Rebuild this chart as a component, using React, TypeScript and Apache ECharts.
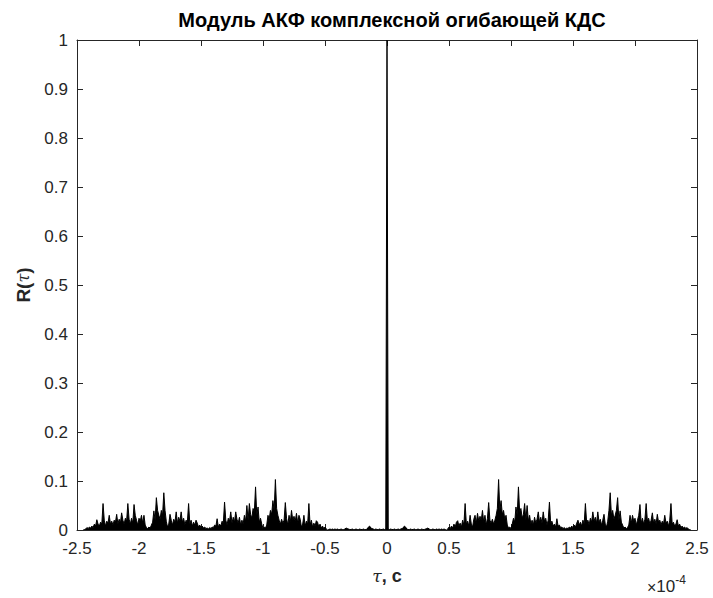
import React, { useEffect, useRef } from "react";
import * as echarts from "echarts";

// Delay axis, units of 1e-4 s
const tauStep = 0.01;
const xTicksMin = -2.5;
const xTicksMax = 2.5;
const xTickInterval = 0.5;
const yTickInterval = 0.1;

// |R(tau)| for tau = 0.00, 0.01, 0.02 ... 2.45 (x1e-4 s); the ACF modulus is symmetric
const rPositive = [
  1.0,
  // 0.01 - 0.47
  0.002, 0.001, 0.002, 0.001, 0.001, 0.002, 0.001, 0.001, 0.002, 0.001,
  0.002, 0.003, 0.004, 0.008, 0.006, 0.002, 0.001, 0.001, 0.002, 0.001,
  0.001, 0.002, 0.001, 0.001, 0.002, 0.001, 0.001, 0.002, 0.001, 0.001,
  0.002, 0.003, 0.004, 0.002, 0.001, 0.001, 0.002, 0.001, 0.001, 0.002,
  0.001, 0.002, 0.001, 0.002, 0.001, 0.002, 0.001,
  // 0.48 - 0.99
  0.0, 0.002, 0.006, 0.003, 0.008, 0.004, 0.012, 0.006, 0.016, 0.019,
  0.008, 0.014, 0.006, 0.02, 0.01, 0.054, 0.012, 0.018, 0.008, 0.03,
  0.012, 0.006, 0.022, 0.03, 0.014, 0.034, 0.018, 0.028, 0.02, 0.04,
  0.016, 0.03, 0.01, 0.024, 0.056, 0.02, 0.014, 0.022, 0.012, 0.02,
  0.03, 0.044, 0.103, 0.04, 0.06, 0.032, 0.04, 0.022, 0.03, 0.01,
  0.004, 0.006,
  // 1.00 - 1.49
  0.003, 0.012, 0.024, 0.016, 0.047, 0.03, 0.088, 0.036, 0.044, 0.024,
  0.032, 0.054, 0.02, 0.05, 0.018, 0.03, 0.012, 0.02, 0.01, 0.026,
  0.014, 0.022, 0.037, 0.016, 0.026, 0.014, 0.037, 0.018, 0.024, 0.01,
  0.02, 0.057, 0.014, 0.018, 0.008, 0.012, 0.006, 0.023, 0.008, 0.01,
  0.005, 0.006, 0.003, 0.005, 0.002, 0.004, 0.003, 0.006, 0.004, 0.008,
  // 1.50 - 1.99
  0.005, 0.01, 0.006, 0.014, 0.02, 0.01, 0.016, 0.008, 0.02, 0.012,
  0.054, 0.016, 0.02, 0.01, 0.024, 0.016, 0.037, 0.018, 0.026, 0.014,
  0.037, 0.016, 0.022, 0.01, 0.02, 0.032, 0.012, 0.006, 0.018, 0.04,
  0.076, 0.03, 0.04, 0.022, 0.03, 0.04, 0.066, 0.02, 0.039, 0.016,
  0.01, 0.004, 0.006, 0.003, 0.005, 0.01, 0.03, 0.014, 0.03, 0.018,
  // 2.00 - 2.45
  0.024, 0.01, 0.02, 0.03, 0.052, 0.014, 0.024, 0.012, 0.022, 0.054,
  0.018, 0.024, 0.012, 0.02, 0.035, 0.014, 0.022, 0.012, 0.032, 0.016,
  0.02, 0.01, 0.018, 0.012, 0.03, 0.014, 0.018, 0.008, 0.02, 0.054,
  0.012, 0.016, 0.008, 0.012, 0.021, 0.008, 0.012, 0.005, 0.008, 0.004,
  0.006, 0.003, 0.005, 0.002, 0.001, 0.0,
];

const titleText = "Модуль АКФ комплексной огибающей КДС";

const AXIS_COLOR = "#262626";
const FONT = "'Liberation Sans', Arial, Helvetica, sans-serif";

function buildSeries(): [number, number][] {
  const pts: [number, number][] = [];
  for (let i = rPositive.length - 1; i >= 1; i--) {
    pts.push([-Number((i * tauStep).toFixed(4)), rPositive[i]]);
  }
  for (let i = 0; i < rPositive.length; i++) {
    pts.push([Number((i * tauStep).toFixed(4)), rPositive[i]]);
  }
  return pts;
}

export default function App() {
  const ref = useRef<HTMLDivElement>(null);
  useEffect(() => {
    if (!ref.current) return;
    const chart = echarts.init(ref.current, undefined, { renderer: "svg" });
    const axisCommon = {
      axisLine: { show: true, onZero: false, lineStyle: { color: AXIS_COLOR, width: 1 } },
      axisTick: { show: true, inside: true, length: 6, lineStyle: { color: AXIS_COLOR } },
      splitLine: { show: false },
    };
    chart.setOption({
      animation: false,
      backgroundColor: "#ffffff",
      title: {
        text: titleText,
        left: 387,
        textAlign: "center",
        top: 5,
        textStyle: { fontFamily: FONT, fontSize: 20, fontWeight: "bold", color: "#000" },
      },
      grid: { left: 77, right: 16, top: 40, bottom: 68, containLabel: false },
      xAxis: [
        {
          type: "value",
          min: xTicksMin,
          max: xTicksMax,
          interval: xTickInterval,
          ...axisCommon,
          axisLabel: {
            show: true,
            color: AXIS_COLOR,
            fontFamily: FONT,
            fontSize: 17,
            margin: 10,
            formatter: (v: number) => String(Number(v.toFixed(2))),
          },
          name: "{i|τ}{b|, с}",
          nameLocation: "middle",
          nameGap: 37,
          nameTextStyle: {
            rich: {
              i: { fontFamily: "'DejaVu Serif', serif", fontStyle: "italic", fontSize: 17, color: AXIS_COLOR },
              b: { fontFamily: FONT, fontWeight: "bold", fontSize: 18, color: AXIS_COLOR },
            },
          },
        },
        {
          type: "value",
          position: "top",
          min: xTicksMin,
          max: xTicksMax,
          interval: xTickInterval,
          ...axisCommon,
          axisLabel: { show: false },
        },
      ],
      yAxis: [
        {
          type: "value",
          min: 0,
          max: 1,
          interval: yTickInterval,
          ...axisCommon,
          axisLabel: {
            show: true,
            color: AXIS_COLOR,
            fontFamily: FONT,
            fontSize: 17,
            margin: 9,
            formatter: (v: number) => String(Number(v.toFixed(2))),
          },
          name: "{b|R(}{i|τ}{b|)}",
          nameLocation: "middle",
          nameGap: 38,
          nameRotate: 90,
          nameTextStyle: {
            rich: {
              i: { fontFamily: "'DejaVu Serif', serif", fontStyle: "italic", fontSize: 16, color: AXIS_COLOR },
              b: { fontFamily: FONT, fontWeight: "bold", fontSize: 19, color: AXIS_COLOR },
            },
          },
        },
        {
          type: "value",
          position: "right",
          min: 0,
          max: 1,
          interval: yTickInterval,
          ...axisCommon,
          axisLabel: { show: false },
        },
      ],
      graphic: [
        {
          type: "text",
          left: 647,
          top: 574,
          style: {
            text: "{a|×}{b|10}{s|-4}",
            rich: {
              a: { fontFamily: FONT, fontSize: 16, fill: AXIS_COLOR, verticalAlign: "bottom" },
              b: { fontFamily: FONT, fontSize: 17, fill: AXIS_COLOR, verticalAlign: "bottom" },
              s: { fontFamily: FONT, fontSize: 12, fill: AXIS_COLOR, verticalAlign: "top", padding: [0, 0, 9, 0] },
            },
          },
        },
      ],
      series: [
        {
          type: "line",
          data: buildSeries(),
          showSymbol: false,
          symbol: "none",
          silent: true,
          lineStyle: { color: "#000000", width: 1 },
          areaStyle: { color: "#000000", opacity: 1, origin: "start" },
          xAxisIndex: 0,
          yAxisIndex: 0,
        },
      ],
    });
    return () => chart.dispose();
  }, []);
  return (
    <div
      ref={ref}
      style={{ position: "fixed", left: 0, top: 0, width: 713, height: 598, background: "#fff" }}
    />
  );
}
